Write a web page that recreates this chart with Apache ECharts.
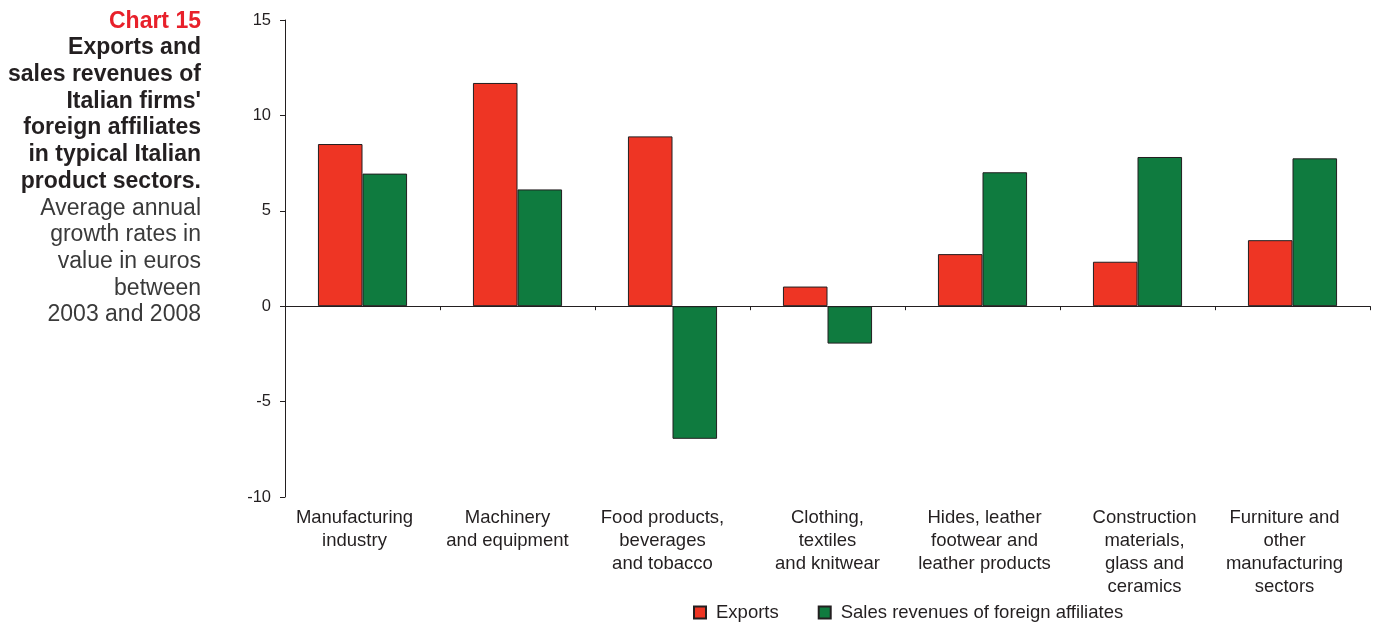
<!DOCTYPE html>
<html>
<head>
<meta charset="utf-8">
<script src="https://cdn.jsdelivr.net/npm/echarts@6/dist/echarts.min.js"></script>
<style>
html,body{margin:0;padding:0;background:#fff;}
#chart{width:1376px;height:624px;}
</style>
</head>
<body>
<div id="chart"></div>
<script>
const categories = [
  "Manufacturing\nindustry",
  "Machinery\nand equipment",
  "Food products,\nbeverages\nand tobacco",
  "Clothing,\ntextiles\nand knitwear",
  "Hides, leather\nfootwear and\nleather products",
  "Construction\nmaterials,\nglass and\nceramics",
  "Furniture and\nother\nmanufacturing\nsectors"
];
const exportsValues = [8.5, 11.7, 8.9, 1.03, 2.73, 2.33, 3.46];
const salesValues = [6.95, 6.12, -6.95, -1.96, 7.02, 7.82, 7.75];
const yTicks = { min: -10, max: 15, interval: 5 };
const seriesNames = ["Exports", "Sales revenues of foreign affiliates"];

const FONT = "Liberation Sans, Arial, Helvetica, sans-serif";
// horizontal nudges of the category labels (style only)
const labelShift = [-8, -10, -10, 0, 2, 7, -8];
const labelRich = {};
labelShift.forEach((s, i) => {
  labelRich['l' + i] = {
    fontFamily: FONT, fontSize: 18.5, color: '#231F20', lineHeight: 22.7, align: 'center',
    padding: s < 0 ? [0, -2 * s, 0, 0] : [0, 0, 0, 2 * s]
  };
});

const chart = echarts.init(document.getElementById('chart'));
chart.setOption({
  animation: false,
  textStyle: { fontFamily: FONT },
  title: {
    left: 201, top: 8, textAlign: 'right', padding: 0,
    text: '{a|Chart 15}\n{b|Exports and}\n{b|sales revenues of}\n{b|Italian firms\'}\n{b|foreign affiliates}\n{b|in typical Italian}\n{b|product sectors.}\n{c|Average annual}\n{c|growth rates in}\n{c|value in euros}\n{c|between}\n{c|2003 and 2008}',
    textStyle: {
      rich: {
        a: { fontFamily: FONT, fontSize: 23, fontWeight: 'bold', color: '#E8202A', lineHeight: 26.7, align: 'right' },
        b: { fontFamily: FONT, fontSize: 23, fontWeight: 'bold', color: '#231F20', lineHeight: 26.7, align: 'right' },
        c: { fontFamily: FONT, fontSize: 23, fontWeight: 'normal', color: '#3a3a3a', lineHeight: 26.7, align: 'right' }
      }
    }
  },
  legend: {
    bottom: 2, left: 693, itemGap: 39, padding: 0,
    icon: 'rect', itemWidth: 12, itemHeight: 12,
    textStyle: { fontFamily: FONT, fontSize: 18.5, color: '#231F20', padding: [0, 0, 0, 5] },
    data: seriesNames
  },
  grid: { left: 285, right: 6, top: 20, bottom: 127, containLabel: false },
  xAxis: [
    {
      type: 'category', data: categories, position: 'bottom',
      axisLine: { show: false, onZero: false },
      axisTick: { show: false },
      axisLabel: {
        fontFamily: FONT, fontSize: 18.5, color: '#231F20', lineHeight: 22.7, margin: 10, interval: 0,
        formatter: (v, i) => v.split('\n').map(line => '{l' + i + '|' + line + '}').join('\n'),
        rich: labelRich
      }
    },
    {
      type: 'category', data: categories, position: 'bottom',
      axisLine: { show: true, onZero: true, lineStyle: { color: '#231F20', width: 1 } },
      axisTick: { show: true, length: 4, lineStyle: { color: '#231F20' } },
      axisLabel: { show: false }
    }
  ],
  yAxis: {
    type: 'value', min: yTicks.min, max: yTicks.max, interval: yTicks.interval,
    splitLine: { show: false },
    axisLine: { show: true, lineStyle: { color: '#231F20', width: 1 } },
    axisTick: { show: true, length: 5, lineStyle: { color: '#231F20' } },
    axisLabel: { fontFamily: FONT, fontSize: 16.5, color: '#231F20', margin: 14 }
  },
  series: [
    {
      name: seriesNames[0], type: 'bar', data: exportsValues, xAxisIndex: 0,
      barGap: '0%', barCategoryGap: '42.5%',
      itemStyle: { color: '#EE3524', borderColor: '#231F20', borderWidth: 1 }
    },
    {
      name: seriesNames[1], type: 'bar', data: salesValues, xAxisIndex: 0,
      itemStyle: { color: '#0F7B3F', borderColor: '#231F20', borderWidth: 1 }
    }
  ]
});
</script>
</body>
</html>
